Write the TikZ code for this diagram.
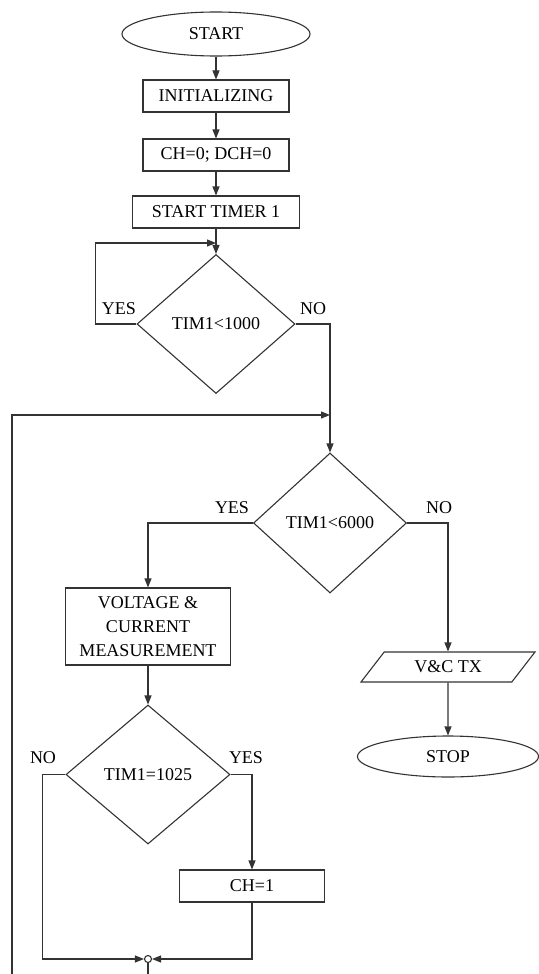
\documentclass[tikz,border=0pt]{standalone}
\usepackage{fontspec}
\setmainfont{Liberation Serif}
\usetikzlibrary{shapes.geometric,     % ellipse, losange, trapeze
           arrows.meta}               % pointes de fleches
\tikzset{trait/.style={draw=black!80,line width=1.1pt},
         bloc/.style={trait,minimum height=32pt,inner sep=2pt},
         test/.style={trait,diamond,inner sep=0pt},
         term/.style={trait,ellipse,inner sep=0pt},
         fleche/.style={trait,-{Triangle[length=9pt,width=7pt]}},
         etiq/.style={inner sep=0pt}}

\begin{document}
\begin{tikzpicture}[x=1pt,y=-1pt,font=\fontsize{18}{24}\selectfont]
\useasboundingbox(0,0)rectangle(538,974);
% colonne principale
\node[term,minimum width=188pt,minimum height=44pt](start)at(216,34){START};
\node[bloc,minimum width=146pt](init)at(216,96){INITIALIZING};
\node[bloc,minimum width=146pt](raz)at(216,155){CH=0; DCH=0};
\node[bloc,minimum width=167pt](timer)at(216,212){START TIMER 1};
\node[test,minimum width=158pt,minimum height=139pt](attente)at(216,324){TIM1<1000};
\node[test,minimum width=153pt,minimum height=140pt](fin)at(330,523){TIM1<6000};
\node[bloc,minimum width=165pt,minimum height=77pt,align=center](mesure)at(148,626.5){VOLTAGE \&\\CURRENT\\MEASUREMENT};
\node[trait,trapezium,trapezium left angle=35,trapezium right angle=145,trapezium stretches body,
      minimum width=174pt,minimum height=30pt,inner sep=2pt](envoi)at(448,667){V\&C TX};
\node[term,minimum width=181pt,minimum height=41pt](stop)at(448,756.5){STOP};
\node[test,minimum width=164pt,minimum height=139pt](seuil)at(148,774.5){TIM1=1025};
\node[bloc,minimum width=145pt](charge)at(252,886){CH=1};
\node[trait,circle,inner sep=0pt,minimum size=7pt,fill=white](jonc)at(148,959){};
\coordinate(boucle)at(216,243);
\coordinate(retour)at(330,415);
\coordinate(retbas)at(12,974);
\coordinate(sortie)at(148,974);
% liaisons
\foreach \a/\b in {start/init,init/raz,raz/timer,timer/attente,mesure/seuil,envoi/stop}
  \draw[fleche](\a)--(\b);
\draw[fleche](attente.west)--++(-41,0)|-(boucle);
\draw[trait](attente.east)-|(retour);
\draw[fleche](retbas)|-(retour);
\draw[fleche](retour)--(fin);
\draw[fleche](fin.west)-|(mesure);
\draw[fleche](fin.east)-|(envoi);
\draw[fleche](seuil.west)--++(-23,0)|-(jonc);
\draw[fleche](seuil.east)-|(charge);
\draw[fleche](charge.south)|-(jonc);
\draw[trait](jonc)--(sortie);
% etiquettes
\node[etiq](oui1)at(119,309){YES};
\node[etiq](non1)at(313,309){NO};
\node[etiq](oui2)at(232,508){YES};
\node[etiq](non2)at(439,508){NO};
\node[etiq](non3)at(43,758){NO};
\node[etiq](oui3)at(246,758){YES};
\end{tikzpicture}
\end{document}
